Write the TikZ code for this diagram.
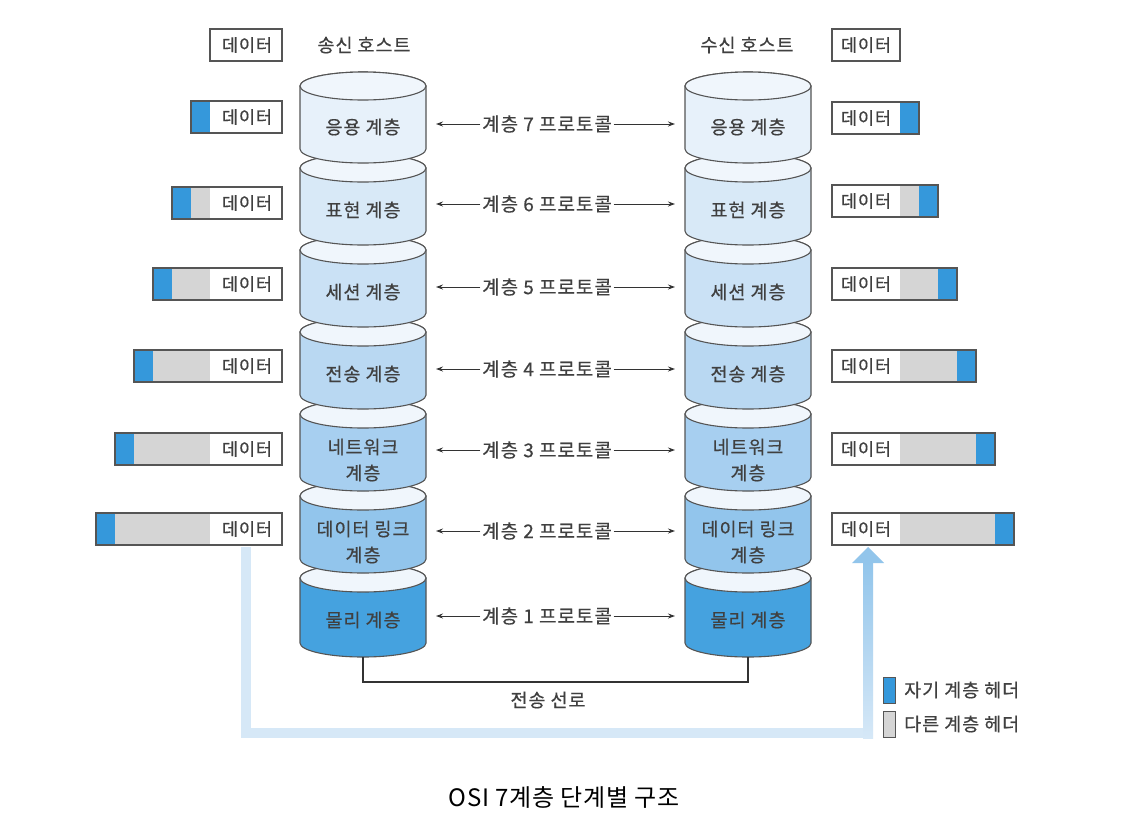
\documentclass[tikz,border=0pt]{standalone}
\usepackage{fontspec}
\setmainfont{Noto Sans CJK KR}
\newfontfamily\lblfont{Noto Sans CJK KR}[LetterSpace=5, FakeBold=0.5]
\newfontfamily\capfont{Noto Sans CJK KR}[LetterSpace=3]
\usetikzlibrary{arrows.meta}
\definecolor{edgec}{HTML}{555555}
\definecolor{txt}{HTML}{404040}
\definecolor{hblue}{HTML}{3598DB}
\definecolor{hgray}{HTML}{D5D5D5}
\definecolor{topc}{HTML}{F0F6FC}
\definecolor{cA}{HTML}{E7F1FA}
\definecolor{cB}{HTML}{D8E9F7}
\definecolor{cC}{HTML}{CAE1F5}
\definecolor{cD}{HTML}{B9D8F2}
\definecolor{cE}{HTML}{A7CFF0}
\definecolor{cF}{HTML}{92C5EC}
\definecolor{cG}{HTML}{45A2DF}
\definecolor{pathc}{HTML}{D6E8F7}
\definecolor{pathd}{HTML}{92C5EB}
\newcommand\osicyl[7]{%
  \path[draw=edgec, line width=1.1pt, fill=#5] ({#2-63},{-#3}) -- ({#2-63},{-#4}) arc[start angle=180, end angle=360, x radius=63, y radius=14] -- ({#2+63},{-#3}) arc[start angle=0, end angle=180, x radius=63, y radius=14] -- cycle;
  \path[draw=edgec, line width=1.1pt, fill=topc] (#2,{-#3}) ellipse[x radius=63, y radius=14];
  \node[lbl] (#1) at (#2,{-#3-#7}) {#6};
  \coordinate (#1-E) at ({#2+63},{-#3-40});
  \coordinate (#1-W) at ({#2-63},{-#3-40});
  \coordinate (#1-B) at (#2,{-#4-14});
}
\newcommand\dataL[3]{%
  \fill[white] (210,{-#2+16}) rectangle (282,{-#2-16});
  \ifnum#3>0
    \fill[hgray] ({210-19*#3},{-#2+16}) rectangle (210,{-#2-16});
    \fill[hblue] ({210-19*#3},{-#2+16}) rectangle ({229-19*#3},{-#2-16});
  \fi
  \node[dtext] (#1) at (247,{-#2}) {데이터};
  \draw[edgec, line width=1.3pt] ({210-19*#3},{-#2+16}) rectangle (282,{-#2-16});
}
\newcommand\dataR[3]{%
  \fill[white] (832,{-#2+16}) rectangle (900,{-#2-16});
  \ifnum#3>0
    \fill[hgray] (900,{-#2+16}) rectangle ({900+19*#3},{-#2-16});
    \fill[hblue] ({881+19*#3},{-#2+16}) rectangle ({900+19*#3},{-#2-16});
  \fi
  \node[dtext] (#1) at (866,{-#2}) {데이터};
  \draw[edgec, line width=1.3pt] (832,{-#2+16}) rectangle ({900+19*#3},{-#2-16});
}
\begin{document}
\begin{tikzpicture}[x=1pt, y=1pt,
  lbl/.style={text=txt, font=\lblfont\fontsize{18.5}{26}\selectfont, align=center, inner sep=1pt},
  dtext/.style={text=txt, font=\lblfont\fontsize{17.5}{20}\selectfont, inner sep=0pt},
  ptext/.style={text=txt, font=\lblfont\fontsize{19}{20}\selectfont, inner sep=1.5pt},
  proto/.style={draw=black!80, line width=1pt, -{Stealth[length=7pt, width=5pt]}, shorten >=10pt},
  tline/.style={draw=black!80, line width=1.5pt},
  captext/.style={text=black, font=\capfont\fontsize{24}{28}\selectfont}]
\useasboundingbox (0,0) rectangle (1124,-820);
\fill[white] (0,0) rectangle (1124,-820);

% big blue return path
\coordinate (bs) at (246,-547);
\coordinate (bc1) at (246,-733);
\coordinate (bc2) at (868,-733);
\draw[pathc, line width=10pt] (bs) -- (bc1) -- (bc2);
\shade[bottom color=pathc, top color=pathd] (863,-738) rectangle (873,-562);
\fill[pathd] (852,-563) -- (884,-563) -- (868,-547) -- cycle;

% sender stack (bottom to top)
\osicyl{L1}{363}{578}{643}{cG}{물리 계층}{42}
\osicyl{L2}{363}{496}{559}{cF}{데이터 링크\\계층}{46}
\osicyl{L3}{363}{414}{477}{cE}{네트워크\\계층}{46}
\osicyl{L4}{363}{332}{395}{cD}{전송 계층}{42}
\osicyl{L5}{363}{250}{313}{cC}{세션 계층}{42}
\osicyl{L6}{363}{168}{231}{cB}{표현 계층}{42}
\osicyl{L7}{363}{86}{149}{cA}{응용 계층}{41}
% receiver stack
\osicyl{R1}{748}{578}{643}{cG}{물리 계층}{42}
\osicyl{R2}{748}{496}{559}{cF}{데이터 링크\\계층}{46}
\osicyl{R3}{748}{414}{477}{cE}{네트워크\\계층}{46}
\osicyl{R4}{748}{332}{395}{cD}{전송 계층}{42}
\osicyl{R5}{748}{250}{313}{cC}{세션 계층}{42}
\osicyl{R6}{748}{168}{231}{cB}{표현 계층}{42}
\osicyl{R7}{748}{86}{149}{cA}{응용 계층}{41}

% host titles
\node[lbl] (sh) at (364,-45) {송신 호스트};
\node[lbl] (rh) at (747,-45) {수신 호스트};

% protocols
\foreach \n/\y in {7/124,6/204,5/287,4/369,3/450,2/531,1/616}{
  \node[ptext] (p\n) at (547,-\y) {계층 \n\ 프로토콜};
  \draw[proto] (p\n.west) -- (p\n.west -| L\n-E);
  \draw[proto] (p\n.east) -- (p\n.east -| R\n-W);
}

% transmission line
\draw[tline] (L1-B) -- ++(0,-25) -| (R1-B);
\node[lbl] (tl) at (548,-700) {전송 선로};

% data boxes
\dataL{dL0}{45}{0}
\dataL{dL7}{117}{1}
\dataL{dL6}{203}{2}
\dataL{dL5}{284}{3}
\dataL{dL4}{366}{4}
\dataL{dL3}{449}{5}
\dataL{dL2}{529}{6}
\dataR{dR0}{45}{0}
\dataR{dR7}{118}{1}
\dataR{dR6}{201}{2}
\dataR{dR5}{284}{3}
\dataR{dR4}{366}{4}
\dataR{dR3}{449}{5}
\dataR{dR2}{529}{6}

% legend
\draw[edgec, line width=1pt, fill=hblue] (883,-677) rectangle (895,-703);
\node[lbl, anchor=west] (lg1) at (903,-690) {자기 계층 헤더};
\draw[edgec, line width=1pt, fill=hgray] (883,-711) rectangle (895,-737);
\node[lbl, anchor=west] (lg2) at (903,-724) {다른 계층 헤더};

% caption
\node[captext] (caption) at (564,-797) {OSI 7계층 단계별 구조};
\end{tikzpicture}
\end{document}
